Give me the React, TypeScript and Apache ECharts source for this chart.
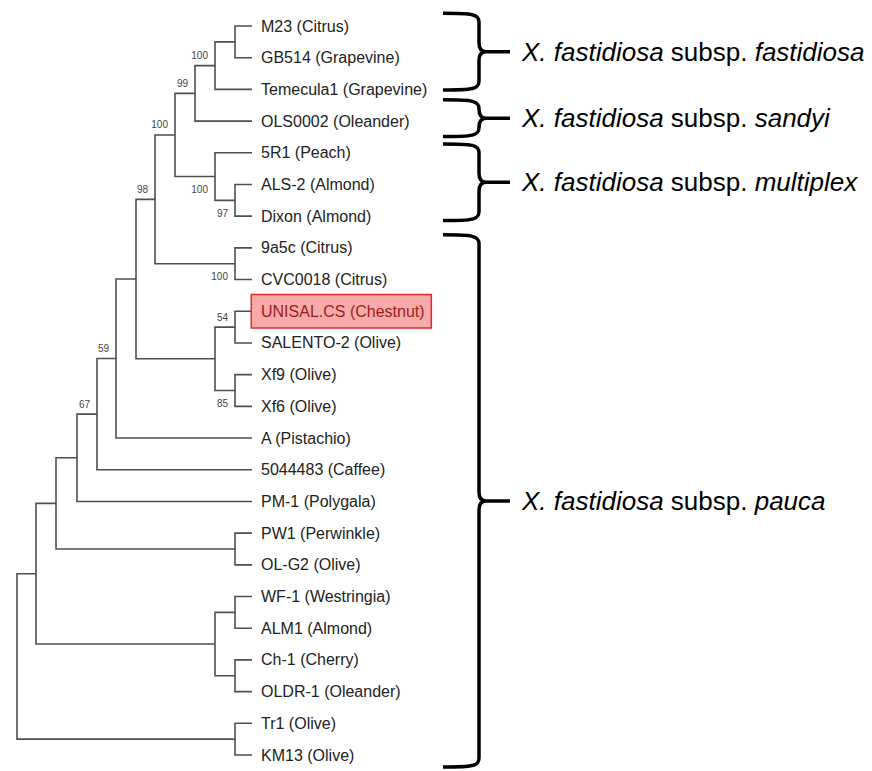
import React, { useEffect, useRef } from "react";
import * as echarts from "echarts";

// ---------- DATA ----------
const leafStrains = [
  "M23", "GB514", "Temecula1", "OLS0002", "5R1", "ALS-2", "Dixon", "9a5c", "CVC0018",
  "UNISAL.CS", "SALENTO-2", "Xf9", "Xf6", "A", "5044483", "PM-1", "PW1", "OL-G2",
  "WF-1", "ALM1", "Ch-1", "OLDR-1", "Tr1", "KM13",
];
const leafHosts = [
  "Citrus", "Grapevine", "Grapevine", "Oleander", "Peach", "Almond", "Almond", "Citrus", "Citrus",
  "Chestnut", "Olive", "Olive", "Olive", "Pistachio", "Caffee", "Polygala", "Perwinkle", "Olive",
  "Westringia", "Almond", "Cherry", "Oleander", "Olive", "Olive",
];
const highlightedStrain = "UNISAL.CS";

const nodeIds = [
  "N1", "N2", "N3", "N4", "N5", "N6", "N7", "N8", "N9", "N10", "N11", "N12",
  "N13", "N14", "N15", "N16", "N17", "N18", "N19", "N20", "N21", "N22", "N23",
];
const nodeChildren = [
  ["M23", "GB514"],
  ["N1", "Temecula1"],
  ["N2", "OLS0002"],
  ["ALS-2", "Dixon"],
  ["5R1", "N4"],
  ["N3", "N5"],
  ["9a5c", "CVC0018"],
  ["N6", "N7"],
  ["UNISAL.CS", "SALENTO-2"],
  ["Xf9", "Xf6"],
  ["N9", "N10"],
  ["N8", "N11"],
  ["N12", "A"],
  ["N13", "5044483"],
  ["N14", "PM-1"],
  ["PW1", "OL-G2"],
  ["N15", "N16"],
  ["WF-1", "ALM1"],
  ["Ch-1", "OLDR-1"],
  ["N18", "N19"],
  ["N17", "N20"],
  ["Tr1", "KM13"],
  ["N21", "N22"],
];
const nodeDepths = [218, 198, 178, 218, 198, 158, 218, 138, 218, 218, 198, 119, 99, 80, 60, 218, 39, 218, 218, 198, 19, 218, 0];
const leafDepth = 235;
const bootstrapValues = [
  null, 100, 99, 97, 100, 100, 100, 98, 54, 85, null, null,
  59, 67, null, null, null, null, null, null, null, null, null,
];
const bootstrapSide = [
  "", "above", "above", "below", "below", "above", "below", "above", "above", "below", "", "",
  "above", "above", "", "", "", "", "", "", "", "", "",
];

const cladeEpithets = ["fastidiosa", "sandyi", "multiplex", "pauca"];
const cladeBraceFrom = [-0.4, 2.33, 3.72, 6.59];
const cladeBraceTo = [2.02, 3.49, 6.14, 23.38];

// ---------- derived ----------
const leafIndex: Record<string, number> = {};
leafStrains.forEach((s, i) => (leafIndex[s] = i));
const nodeIndex: Record<string, number> = {};
nodeIds.forEach((s, i) => (nodeIndex[s] = i));

function posOf(id: string): [number, number] {
  if (id in leafIndex) return [leafDepth, leafIndex[id]];
  const i = nodeIndex[id];
  const [a, b] = nodeChildren[i];
  const ya = posOf(a)[1];
  const yb = posOf(b)[1];
  return [nodeDepths[i], (ya + yb) / 2];
}

const treeData = nodeIds.map((id, i) => {
  const p = posOf(id);
  const c1 = posOf(nodeChildren[i][0]);
  const c2 = posOf(nodeChildren[i][1]);
  const bs = bootstrapValues[i];
  return [p[0], p[1], c1[0], c1[1], c2[0], c2[1], bs == null ? -1 : bs, bootstrapSide[i] === "below" ? 1 : 0];
});
const leafData = leafStrains.map((s, i) => [leafDepth, i, s === highlightedStrain ? 1 : 0]);
const braceData = cladeEpithets.map((_, i) => [cladeBraceFrom[i], cladeBraceTo[i], i]);

const FONT = "'Liberation Sans', Arial, Helvetica, sans-serif";
const LINE = "#4f4f4f";
const BIG = 26;

export default function App() {
  const ref = useRef<HTMLDivElement>(null);
  useEffect(() => {
    if (!ref.current) return;
    const chart = echarts.init(ref.current, undefined, { renderer: "svg" });
    const option: any = {
      animation: false,
      backgroundColor: "#ffffff",
      grid: { left: 17, right: 620, top: 26, bottom: 16 },
      xAxis: { type: "value", min: 0, max: 235, show: false },
      yAxis: { type: "value", min: 0, max: 23, inverse: true, show: false },
      series: [
        {
          type: "custom",
          clip: false,
          data: treeData,
          renderItem: (params: any, api: any) => {
            const p = api.coord([api.value(0), api.value(1)]);
            const c1 = api.coord([api.value(2), api.value(3)]);
            const c2 = api.coord([api.value(4), api.value(5)]);
            const bs = api.value(6);
            const below = api.value(7) === 1;
            const children: any[] = [
              {
                type: "polyline",
                shape: {
                  points: [
                    [c1[0], c1[1]],
                    [p[0], c1[1]],
                    [p[0], c2[1]],
                    [c2[0], c2[1]],
                  ],
                },
                style: { stroke: LINE, lineWidth: 1.6, fill: null },
              },
            ];
            if (bs >= 0) {
              children.push({
                type: "text",
                x: p[0] - 7,
                y: below ? p[1] + 13 : p[1] - 10,
                style: {
                  text: String(bs),
                  fontSize: 10,
                  fontFamily: FONT,
                  fill: "#444",
                  align: "right",
                  verticalAlign: "middle",
                },
              });
            }
            return { type: "group", children };
          },
        },
        {
          type: "custom",
          clip: false,
          data: leafData,
          renderItem: (params: any, api: any) => {
            const i = api.value(1);
            const p = api.coord([api.value(0), i]);
            const hl = api.value(2) === 1;
            const text = `${leafStrains[i]} (${leafHosts[i]})`;
            if (hl) {
              return {
                type: "text",
                x: p[0],
                y: p[1],
                style: {
                  text,
                  fontSize: 16,
                  fontFamily: FONT,
                  fill: "#a01c1c",
                  verticalAlign: "middle",
                  align: "left",
                  backgroundColor: "#f7aaaa",
                  borderColor: "#e8262b",
                  borderWidth: 1.5,
                  padding: [8, 6, 8, 9],
                },
              };
            }
            return {
              type: "text",
              x: p[0] + 9,
              y: p[1],
              style: {
                text,
                fontSize: 16,
                fontFamily: FONT,
                fill: "#222",
                verticalAlign: "middle",
                align: "left",
              },
            };
          },
        },
        {
          type: "custom",
          clip: false,
          data: braceData,
          renderItem: (params: any, api: any) => {
            const y1 = api.coord([0, api.value(0)])[1];
            const y2 = api.coord([0, api.value(1)])[1];
            const ym = (y1 + y2) / 2;
            const x0 = 443, xv = 479, xc = 486, xt = 510;
            const d =
              `M ${x0} ${y1} C ${xv - 6} ${y1} ${xv} ${y1 + 1} ${xv} ${y1 + 9} ` +
              `L ${xv} ${ym - 9} C ${xv} ${ym - 3} ${xv + 2} ${ym} ${xc} ${ym} ` +
              `C ${xv + 2} ${ym} ${xv} ${ym + 3} ${xv} ${ym + 9} ` +
              `L ${xv} ${y2 - 9} C ${xv} ${y2 - 1} ${xv - 6} ${y2} ${x0} ${y2} ` +
              `M ${xc - 2} ${ym} L ${xt} ${ym}`;
            const ep = cladeEpithets[api.value(2)];
            return {
              type: "group",
              children: [
                {
                  type: "path",
                  shape: { pathData: d },
                  style: { stroke: "#000", lineWidth: 3.5, fill: null, lineJoin: "round" },
                },
                {
                  type: "text",
                  x: 522,
                  y: ym,
                  style: {
                    text: `{i|X. fastidiosa}{n| subsp. }{i|${ep}}`,
                    fontSize: BIG,
                    fontFamily: FONT,
                    fill: "#000",
                    verticalAlign: "middle",
                    rich: {
                      i: { fontStyle: "italic", fontSize: BIG, fontFamily: FONT, fill: "#000" },
                      n: { fontSize: BIG, fontFamily: FONT, fill: "#000" },
                    },
                  },
                },
              ],
            };
          },
        },
      ],
    };
    chart.setOption(option);
    return () => chart.dispose();
  }, []);
  return (
    <div
      ref={ref}
      style={{ position: "fixed", left: 0, top: 0, width: 872, height: 771 }}
    />
  );
}
